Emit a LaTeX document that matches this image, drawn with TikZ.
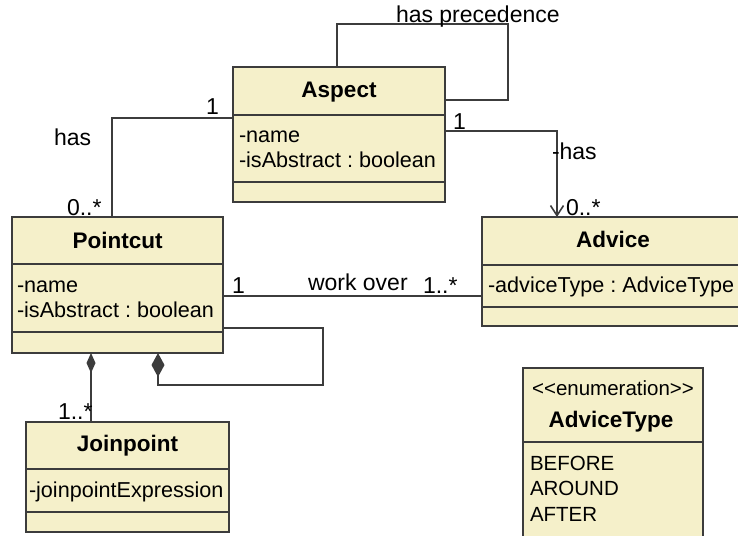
\documentclass[tikz,border=0pt]{standalone}
\usepackage{fontspec}
\newfontfamily\umlfont{Liberation Sans}
\usetikzlibrary{arrows.meta}
\definecolor{classfill}{RGB}{245,240,202}
\definecolor{edgegray}{RGB}{60,60,60}
\newcommand\umlsize{\fontsize{21.6}{25}\selectfont\frenchspacing}
\newcommand\umlsmallsize{\fontsize{20.5}{24}\selectfont\frenchspacing}
\newcommand\umltitlesize{\fontsize{22.5}{25}\selectfont\frenchspacing}
\newcommand\umllabelsize{\fontsize{23}{26}\selectfont\frenchspacing}
\tikzset{
  every node/.style={inner sep=0pt, outer sep=0pt, text=black},
  umlclass/.style={draw=edgegray, fill=classfill, line width=1.6pt, anchor=north west},
  divider/.style={draw=edgegray, line width=1.6pt},
  conn/.style={draw=edgegray, line width=1.6pt},
  classtitle/.style={anchor=base, font=\umlfont\bfseries\umltitlesize},
  attr/.style={anchor=base west, font=\umlfont\umlsize},
  literal/.style={anchor=base west, font=\umlfont\umlsmallsize},
  lbl/.style={anchor=base west, font=\umlfont\umllabelsize},
  navarrow/.style={-{Straight Barb[length=10pt,width=13pt]}},
}
\begin{document}
\begin{tikzpicture}[x=1pt,y=-1pt]
\useasboundingbox (0,0) rectangle (738,535);
\clip (0,0) rectangle (738,535);

% ---- Aspect ----
\node[umlclass, minimum width=212pt, minimum height=135pt] (aspect) at (233,67) {};
\draw[divider] (aspect.west |- 0,115) -- (aspect.east |- 0,115);
\draw[divider] (aspect.west |- 0,182) -- (aspect.east |- 0,182);
\node[classtitle] (aspectT) at (339,97) {Aspect};
\node[attr] (aspectA1) at (239,142) {-name};
\node[attr] (aspectA2) at (239,167) {-isAbstract : boolean};

% ---- Pointcut ----
\node[umlclass, minimum width=211pt, minimum height=136pt] (pointcut) at (12,217) {};
\draw[divider] (pointcut.west |- 0,264) -- (pointcut.east |- 0,264);
\draw[divider] (pointcut.west |- 0,332) -- (pointcut.east |- 0,332);
\node[classtitle] (pointcutT) at (117.5,248) {Pointcut};
\node[attr] (pointcutA1) at (17,292) {-name};
\node[attr] (pointcutA2) at (17,317) {-isAbstract : boolean};

% ---- Advice ----
\node[umlclass, minimum width=263pt, minimum height=109pt] (advice) at (482,217) {};
\draw[divider] (advice.west |- 0,265) -- (advice.east |- 0,265);
\draw[divider] (advice.west |- 0,307) -- (advice.east |- 0,307);
\node[classtitle] (adviceT) at (613,247) {Advice};
\node[attr] (adviceA1) at (488,292) {-adviceType : AdviceType};

% ---- Joinpoint ----
\node[umlclass, minimum width=203pt, minimum height=110pt] (joinpoint) at (26,422) {};
\draw[divider] (joinpoint.west |- 0,469) -- (joinpoint.east |- 0,469);
\draw[divider] (joinpoint.west |- 0,512) -- (joinpoint.east |- 0,512);
\node[classtitle] (joinpointT) at (127.5,451) {Joinpoint};
\node[attr] (joinpointA1) at (29,497) {-joinpointExpression};

% ---- AdviceType enumeration ----
\node[umlclass, minimum width=180pt, minimum height=180pt] (advicetype) at (523,368) {};
\draw[divider] (advicetype.west |- 0,442) -- (advicetype.east |- 0,442);
\node[anchor=base, font=\umlfont\umlsmallsize] (advicetypeS) at (613,395) {<<enumeration>>};
\node[classtitle] (advicetypeT) at (611,427) {AdviceType};
\node[literal] (lit1) at (530,470) {BEFORE};
\node[literal] (lit2) at (530,495) {AROUND};
\node[literal] (lit3) at (530,521) {AFTER};

% ---- connectors ----
% Aspect precedence self-association
\draw[conn] (aspect.north -| 337,0) |- (508,24) |- (aspect.east |- 0,100);
% Aspect -- Pointcut
\draw[conn] (aspect.west |- 0,118) -| (pointcut.north -| 112,0);
% Aspect -> Advice
\draw[conn, navarrow] (aspect.east |- 0,131) -| (advice.north -| 557,0);
% Pointcut -- Advice
\draw[conn] (pointcut.east |- 0,296) -- (advice.west |- 0,296);
% Pointcut composite self-loop
\draw[conn, -{Diamond[length=24pt,width=13pt]}] (pointcut.east |- 0,328) -| (323,385) -| (pointcut.south -| 158,0);
% Pointcut <>-- Joinpoint
\draw[conn, -{Diamond[length=20pt,width=9pt]}] (joinpoint.north -| 91,0) -- (pointcut.south -| 91,0);

% ---- association labels ----
\node[lbl] (lPrec) at (396,23) {has precedence};
\node[lbl] (lAsp1) at (206,114) {1};
\node[lbl] (lHas1) at (54,145) {has};
\node[lbl] (lPc0) at (67,215) {0..*};
\node[lbl] (lAsp2) at (453,129) {1};
\node[lbl] (lHas2) at (552,159) {-has};
\node[lbl] (lAdv0) at (566,215) {0..*};
\node[lbl] (lPc1) at (232,293) {1};
\node[lbl] (lWork) at (308,290) {work over};
\node[lbl] (lAdv1) at (423,293) {1..*};
\node[lbl] (lJp1) at (58,419) {1..*};
\end{tikzpicture}
\end{document}
